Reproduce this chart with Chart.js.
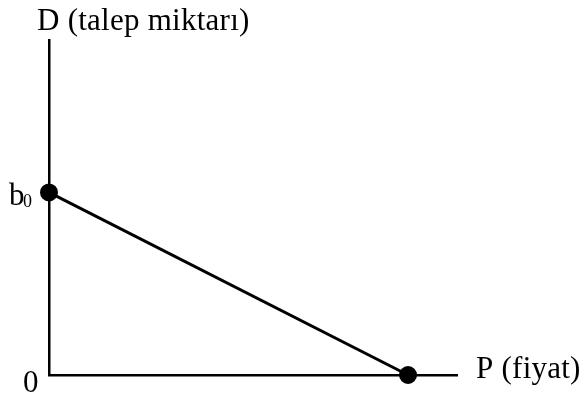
<!DOCTYPE html>
<html lang="tr">
<head>
    <meta charset="UTF-8">
    <title>Talep doğrusu</title>
    <script src="https://cdn.jsdelivr.net/npm/chart.js"></script>
    <style>
        html, body { margin: 0; padding: 0; background: #fff; }
        #wrap { width: 583px; height: 396px; }
    </style>
</head>
<body>
    <div id="wrap"><canvas id="chart"></canvas></div>

    <script>
        // data: demand line from intercept b0 on D axis to the P axis
        const priceValues = [0, 8.8];
        const demandValues = [5.45, 0];
        const axisMax = { x: 10, y: 10 };

        const yTitle = 'D (talep miktarı)';
        const xTitle = 'P (fiyat)';
        const interceptLabel = 'b';
        const interceptSub = '0';
        const originLabel = '0';

        const serif = '"Liberation Serif", "Times New Roman", serif';

        // draws the axis labels next to the axes
        const labelsPlugin = {
            id: 'labels',
            afterDraw(chart) {
                const ctx = chart.ctx;
                const xs = chart.scales.x, ys = chart.scales.y;
                const left = xs.getPixelForValue(0);
                const bottom = ys.getPixelForValue(0);
                ctx.save();
                ctx.fillStyle = '#000';
                ctx.font = '31px ' + serif;
                ctx.letterSpacing = '0.25px';
                ctx.textBaseline = 'alphabetic';
                ctx.textAlign = 'left';
                ctx.fillText(yTitle, left - 12, 30);
                ctx.fillText(xTitle, 476, bottom + 3);
                ctx.fillText(originLabel, left - 26, bottom + 17);
                const by = ys.getPixelForValue(demandValues[0]);
                ctx.fillText(interceptLabel, 9, by + 13);
                ctx.letterSpacing = '0px';
                ctx.font = '18px ' + serif;
                ctx.fillText(interceptSub, 23, by + 15);
                ctx.restore();
            }
        };

        new Chart(document.getElementById('chart'), {
            type: 'scatter',
            data: {
                datasets: [{
                    data: priceValues.map((p, i) => ({ x: p, y: demandValues[i] })),
                    showLine: true,
                    clip: false,
                    borderColor: '#000',
                    borderWidth: 3,
                    backgroundColor: '#000',
                    pointRadius: 7.5,
                    pointHoverRadius: 7.5
                }]
            },
            options: {
                responsive: true,
                maintainAspectRatio: false,
                animation: false,
                layout: { padding: { left: 49, right: 126, top: 40, bottom: 21 } },
                plugins: { legend: { display: false }, tooltip: { enabled: false } },
                scales: {
                    x: {
                        type: 'linear', min: 0, max: axisMax.x,
                        grid: { display: false, drawTicks: false },
                        border: { color: '#000', width: 2.5 },
                        ticks: { display: false }
                    },
                    y: {
                        type: 'linear', min: 0, max: axisMax.y,
                        grid: { display: false, drawTicks: false },
                        border: { color: '#000', width: 2.5 },
                        ticks: { display: false }
                    }
                }
            },
            plugins: [labelsPlugin]
        });
    </script>
</body>
</html>
